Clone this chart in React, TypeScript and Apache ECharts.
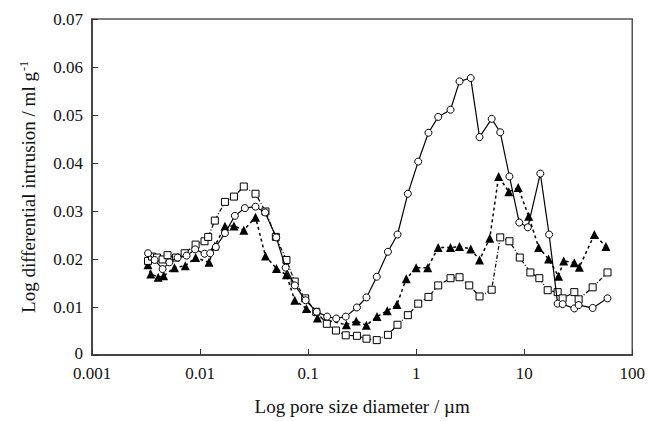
import React, { useEffect, useRef } from "react";
import * as echarts from "echarts";

// Series 1: open circles, solid line
const circleX = [0.0033, 0.0038, 0.0045, 0.0052, 0.0062, 0.0075, 0.009, 0.011, 0.0124, 0.014, 0.017, 0.021, 0.026, 0.0326, 0.04, 0.0507, 0.062, 0.0754, 0.0948, 0.12, 0.15, 0.182, 0.223, 0.283, 0.347, 0.432, 0.548, 0.672, 0.838, 1.045, 1.3, 1.6, 2.08, 2.52, 3.2, 3.86, 5.0, 6.0, 7.3, 9.0, 10.8, 14.1, 17.0, 20.4, 22.7, 29.1, 31.9, 43, 59];
const circleY = [0.0212, 0.0198, 0.0179, 0.0193, 0.0203, 0.0207, 0.022, 0.0211, 0.0212, 0.0225, 0.0254, 0.029, 0.0306, 0.0309, 0.0297, 0.0245, 0.0182, 0.0145, 0.0114, 0.009, 0.008, 0.0076, 0.008, 0.0099, 0.012, 0.0163, 0.0215, 0.0251, 0.0336, 0.0403, 0.0463, 0.0496, 0.0511, 0.057, 0.0577, 0.0454, 0.0492, 0.0464, 0.0372, 0.0276, 0.0266, 0.0378, 0.0251, 0.0107, 0.0106, 0.0097, 0.0104, 0.0098, 0.0118];

// Series 2: open squares, dash-dot line
const squareX = [0.0033, 0.0036, 0.004, 0.0045, 0.005, 0.006, 0.0072, 0.0091, 0.011, 0.0119, 0.0137, 0.017, 0.0206, 0.0254, 0.0326, 0.0403, 0.0503, 0.063, 0.0752, 0.094, 0.119, 0.149, 0.181, 0.223, 0.283, 0.347, 0.432, 0.548, 0.672, 0.838, 1.045, 1.3, 1.6, 2.08, 2.52, 3.1, 3.86, 5.0, 6.0, 7.3, 9.1, 11.4, 13.8, 16.5, 20.4, 22.7, 29.1, 31.9, 43, 59];
const squareY = [0.0196, 0.0205, 0.0203, 0.0199, 0.0208, 0.0203, 0.0212, 0.023, 0.0237, 0.0246, 0.028, 0.0319, 0.033, 0.0351, 0.0336, 0.0299, 0.0246, 0.0198, 0.0153, 0.0118, 0.009, 0.0065, 0.0051, 0.0041, 0.004, 0.0034, 0.0031, 0.0042, 0.0063, 0.0083, 0.0107, 0.0121, 0.0145, 0.016, 0.0162, 0.0145, 0.0122, 0.0136, 0.0245, 0.0237, 0.0203, 0.0172, 0.016, 0.0135, 0.0131, 0.0118, 0.0131, 0.0116, 0.0141, 0.0172];

// Series 3: filled triangles, dashed line
const triangleX = [0.0033, 0.0035, 0.0041, 0.0046, 0.0058, 0.0073, 0.0091, 0.0121, 0.0137, 0.017, 0.0206, 0.0254, 0.0326, 0.0403, 0.0509, 0.063, 0.0752, 0.0965, 0.122, 0.226, 0.279, 0.346, 0.434, 0.54, 0.664, 0.81, 1.0, 1.28, 1.6, 2.08, 2.52, 3.2, 3.86, 4.8, 5.8, 7.2, 8.8, 11.0, 13.6, 16.8, 20.8, 23.2, 29.1, 32.4, 44.6, 57.1];
const triangleY = [0.0188, 0.0169, 0.0162, 0.0165, 0.0182, 0.0186, 0.0203, 0.0193, 0.0227, 0.0268, 0.0269, 0.026, 0.0287, 0.0206, 0.018, 0.0167, 0.0114, 0.0097, 0.0077, 0.0063, 0.0071, 0.0062, 0.008, 0.0092, 0.0105, 0.0159, 0.0182, 0.0182, 0.0224, 0.0224, 0.0226, 0.0221, 0.0198, 0.0243, 0.0372, 0.034, 0.0349, 0.0289, 0.0224, 0.02, 0.0164, 0.0196, 0.0192, 0.0183, 0.0251, 0.0226];

const xTicks = [0.001, 0.01, 0.1, 1, 10, 100];
const yTicks = [0, 0.01, 0.02, 0.03, 0.04, 0.05, 0.06, 0.07];

const FONT = "Liberation Serif";

const pairs = (xs: number[], ys: number[]) => xs.map((x, i) => [x, ys[i]]);

export default function App() {
  const ref = useRef<HTMLDivElement>(null);
  useEffect(() => {
    if (!ref.current) return;
    const chart = echarts.init(ref.current, undefined, { renderer: "svg" });
    chart.setOption({
      animation: false,
      backgroundColor: "#fff",
      textStyle: { fontFamily: FONT },
      grid: {
        left: 92,
        right: 15,
        top: 19,
        bottom: 60,
        show: true,
        borderColor: "#555",
        borderWidth: 1.5,
      },
      xAxis: {
        type: "log",
        logBase: 10,
        min: xTicks[0],
        max: xTicks[xTicks.length - 1],
        name: "Log pore size diameter / µm",
        nameLocation: "middle",
        nameGap: 42,
        nameTextStyle: { fontFamily: FONT, fontSize: 19, color: "#111" },
        axisLine: { lineStyle: { color: "#333", width: 1.5 } },
        axisTick: { inside: true, length: 6, lineStyle: { color: "#333" } },
        minorTick: { show: false },
        splitLine: { show: false },
        axisLabel: {
          fontFamily: FONT,
          fontSize: 17,
          color: "#111",
          margin: 10,
          formatter: (v: number) => {
            const found = xTicks.find((t) => Math.abs(Math.log10(t) - Math.log10(v)) < 1e-6);
            return found !== undefined ? String(found) : "";
          },
        },
      },
      yAxis: {
        type: "value",
        min: yTicks[0],
        max: yTicks[yTicks.length - 1],
        interval: 0.01,
        name: "Log differential intrusion / ml g{sup|-1}",
        nameLocation: "middle",
        nameGap: 53,
        nameTextStyle: {
          fontFamily: FONT,
          fontSize: 19,
          color: "#111",
          rich: {
            sup: { fontFamily: FONT, fontSize: 12, color: "#111", padding: [0, 0, 9, 1] },
          },
        },
        axisLine: { show: true, lineStyle: { color: "#333", width: 1.5 } },
        axisTick: { show: true, inside: true, length: 6, lineStyle: { color: "#333" } },
        splitLine: { show: false },
        axisLabel: {
          fontFamily: FONT,
          fontSize: 17,
          color: "#111",
          margin: 9,
          formatter: (v: number) => (v === 0 ? "{z|0}" : v.toFixed(2)),
          rich: {
            z: { fontFamily: FONT, fontSize: 17, color: "#111", padding: [0, 0, 3, 0] },
          },
        },
      },
      series: [
        {
          type: "line",
          name: "triangles",
          data: pairs(triangleX, triangleY),
          symbol: "triangle",
          symbolSize: 9,
          showAllSymbol: true,
          itemStyle: { color: "#000", borderColor: "#000", borderWidth: 0 },
          lineStyle: { color: "#000", width: 1.5, type: [3, 3] },
          z: 2,
        },
        {
          type: "line",
          name: "squares",
          data: pairs(squareX, squareY),
          symbol: "rect",
          symbolSize: 7,
          showAllSymbol: true,
          itemStyle: { color: "#fff", borderColor: "#000", borderWidth: 1 },
          lineStyle: { color: "#000", width: 1.2, type: [4, 2, 1, 2] },
          z: 3,
        },
        {
          type: "line",
          name: "circles",
          data: pairs(circleX, circleY),
          symbol: "circle",
          symbolSize: 7,
          showAllSymbol: true,
          itemStyle: { color: "#fff", borderColor: "#000", borderWidth: 1 },
          lineStyle: { color: "#000", width: 1.2, type: "solid" },
          z: 4,
        },
      ],
    });
    return () => chart.dispose();
  }, []);
  return (
    <div
      ref={ref}
      style={{ position: "fixed", left: 0, top: 0, width: 648, height: 421, background: "#fff" }}
    />
  );
}
